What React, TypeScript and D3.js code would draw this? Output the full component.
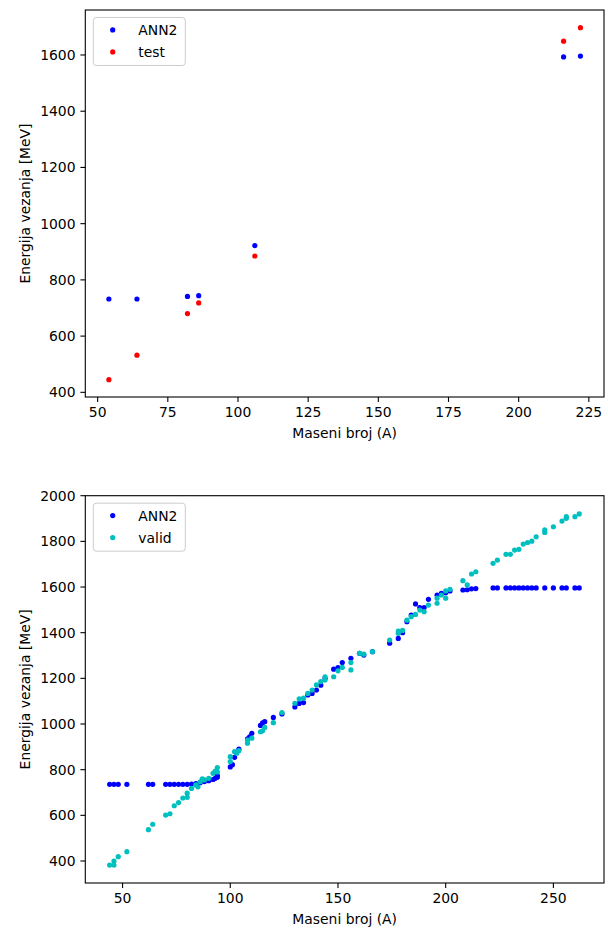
import React from "react";
import * as d3 from "d3";

// ---- Top chart data (test set) ----
const topA = [54, 64, 82, 86, 106, 216, 222];
const topAnn2 = [732, 732, 741, 744, 922, 1593, 1596];
const topTest = [445, 532, 680, 718, 885, 1649, 1697];

// ---- Bottom chart data (validation set) ----
const botAnn2: [number, number][] = [
  [44, 736], [46, 736], [48, 736], [52, 736], [62, 736], [64, 736], [70, 736], [72, 736],
  [74, 736], [76, 736], [78, 736], [80, 736], [82, 737], [84, 739], [86, 743], [88, 748],
  [90, 752], [92, 757], [93, 762], [94, 767], [94, 774],
  [100, 812], [101, 822], [102, 854], [104, 890], [108, 935], [109, 944], [110, 959],
  [114, 994], [115, 1005], [116, 1010], [120, 1029], [124, 1044], [130, 1075], [132, 1090],
  [134, 1094], [136, 1127], [138, 1134], [140, 1149], [142, 1170], [144, 1200], [148, 1240],
  [150, 1247], [152, 1269], [156, 1288], [160, 1310], [162, 1302], [166, 1317], [174, 1354],
  [178, 1375], [180, 1400], [182, 1448], [184, 1477], [186, 1526], [188, 1510], [190, 1510],
  [192, 1546], [196, 1565], [198, 1572], [200, 1575], [202, 1583], [208, 1587], [210, 1588],
  [212, 1592], [214, 1593], [222, 1596], [224, 1596], [228, 1596], [230, 1596], [232, 1596],
  [234, 1596], [236, 1596], [238, 1596], [240, 1596], [242, 1596], [246, 1596], [250, 1596],
  [254, 1596], [256, 1596], [260, 1596], [262, 1596],
];
const botValid: [number, number][] = [
  [44, 382], [46, 382], [46, 400], [48, 419], [52, 441], [62, 537], [64, 561], [70, 601],
  [72, 607], [74, 642], [76, 656], [78, 676], [80, 679], [80, 697], [82, 718], [84, 733],
  [85, 725], [86, 747], [87, 760], [88, 755], [90, 762], [92, 784], [93, 794], [94, 809],
  [94, 790], [100, 835], [100, 857], [102, 879], [103, 872], [104, 883], [108, 916],
  [108, 930], [110, 938], [114, 966], [115, 970], [116, 985], [120, 1006], [124, 1050],
  [130, 1091], [132, 1110], [134, 1113], [136, 1134], [138, 1149], [140, 1171], [142, 1186],
  [144, 1193], [144, 1207], [148, 1207], [150, 1233], [152, 1248], [156, 1269], [156, 1237],
  [160, 1310], [162, 1306], [166, 1317], [174, 1368], [178, 1397], [178, 1407], [180, 1410],
  [182, 1455], [184, 1470], [186, 1480], [188, 1499], [190, 1492], [192, 1521], [196, 1551],
  [196, 1529], [198, 1565], [200, 1551], [200, 1583], [202, 1590], [208, 1628], [210, 1609],
  [212, 1657], [214, 1667], [222, 1704], [224, 1718], [228, 1743], [230, 1743], [232, 1762],
  [234, 1765], [236, 1788], [238, 1795], [240, 1801], [242, 1820], [246, 1839], [246, 1850],
  [250, 1864], [254, 1889], [256, 1901], [256, 1908], [260, 1908], [262, 1920],
];

const topXTicks = [50, 75, 100, 125, 150, 175, 200, 225];
const topYTicks = [400, 600, 800, 1000, 1200, 1400, 1600];
const botXTicks = [50, 100, 150, 200, 250];
const botYTicks = [400, 600, 800, 1000, 1200, 1400, 1600, 1800, 2000];

const BLUE = "#0000ff";
const RED = "#ff0000";
const CYAN = "#00bfbf";
const FONT = "DejaVu Sans, sans-serif";
const FS = 13.9;

type Series = { label: string; color: string; pts: [number, number][] };

function Panel({
  top, bottom, left, right, xDomain, yDomain, xTicks, yTicks, series,
}: {
  top: number; bottom: number; left: number; right: number;
  xDomain: [number, number]; yDomain: [number, number];
  xTicks: number[]; yTicks: number[]; series: Series[];
}) {
  const x = d3.scaleLinear().domain(xDomain).range([left, right]);
  const y = d3.scaleLinear().domain(yDomain).range([bottom, top]);
  const tl = 4.9;
  const lx = left + 8, ly = top + 7.5;
  return (
    <g fontFamily={FONT} fontSize={FS} fill="#000">
      {series.map((s) => (
        <g key={s.label}>
          {s.pts.map(([a, e], i) => (
            <circle key={i} cx={x(a)} cy={y(e)} r={2.6} fill={s.color} />
          ))}
        </g>
      ))}
      <rect x={left} y={top} width={right - left} height={bottom - top}
        fill="none" stroke="#000" strokeWidth={1.1} />
      {xTicks.map((t) => (
        <g key={t}>
          <line x1={x(t)} x2={x(t)} y1={bottom} y2={bottom + tl} stroke="#000" strokeWidth={1.1} />
          <text x={x(t)} y={bottom + tl + 4.9} dy="0.76em" textAnchor="middle">{t}</text>
        </g>
      ))}
      {yTicks.map((t) => (
        <g key={t}>
          <line x1={left - tl} x2={left} y1={y(t)} y2={y(t)} stroke="#000" strokeWidth={1.1} />
          <text x={left - tl - 4.9} y={y(t)} dy="0.36em" textAnchor="end">{t}</text>
        </g>
      ))}
      <text x={(left + right) / 2} y={bottom + 41} textAnchor="middle">Maseni broj (A)</text>
      <text transform={`translate(${25}, ${(top + bottom) / 2}) rotate(-90)`} dy="0.36em"
        textAnchor="middle">Energija vezanja [MeV]</text>
      <rect x={lx} y={ly} width={92} height={48} rx={3} fill="#fff" fillOpacity={0.8}
        stroke="#cccccc" strokeWidth={1} />
      {series.map((s, i) => (
        <g key={s.label}>
          <circle cx={lx + 19.4} cy={ly + 12.4 + i * 22} r={2.6} fill={s.color} />
          <text x={lx + 45} y={ly + 12.4 + i * 22} dy="0.36em">{s.label}</text>
        </g>
      ))}
    </g>
  );
}

export default function App() {
  const topAnnPts = topA.map((a, i) => [a, topAnn2[i]] as [number, number]);
  const topTestPts = topA.map((a, i) => [a, topTest[i]] as [number, number]);
  return (
    <svg width={608} height={929}
      style={{ display: "block", position: "absolute", left: 0, top: 0 }}
      viewBox="0 0 608 929">
      <rect x={0} y={0} width={608} height={929} fill="#fff" />
      <Panel top={10} bottom={397} left={85.3} right={604}
        xDomain={[45.6, 230.4]} yDomain={[383.4, 1760]}
        xTicks={topXTicks} yTicks={topYTicks}
        series={[
          { label: "ANN2", color: BLUE, pts: topAnnPts },
          { label: "test", color: RED, pts: topTestPts },
        ]} />
      <Panel top={495.7} bottom={883} left={85.3} right={604}
        xDomain={[32.7, 273.5]} yDomain={[303.6, 2000]}
        xTicks={botXTicks} yTicks={botYTicks}
        series={[
          { label: "ANN2", color: BLUE, pts: botAnn2 },
          { label: "valid", color: CYAN, pts: botValid },
        ]} />
    </svg>
  );
}
